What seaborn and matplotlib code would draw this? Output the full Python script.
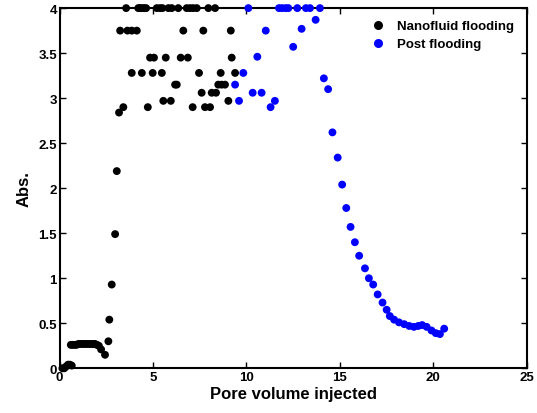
import numpy as np
import pandas as pd
import matplotlib
matplotlib.use("Agg")
import matplotlib.pyplot as plt
import seaborn as sns

# Nanofluid flooding (black)
nano_x = [0.15, 0.25, 0.35, 0.45, 0.55, 0.65,
          0.6, 0.7, 0.8, 0.9, 1.0, 1.1, 1.2, 1.3, 1.4, 1.5, 1.6, 1.7, 1.8, 1.9, 2.0, 2.1,
          2.22, 2.43, 2.61, 2.66, 2.79, 2.97, 3.06, 3.18, 3.41,
          3.24, 3.63, 3.86, 4.13, 6.62, 7.69, 9.16,
          3.56, 4.21, 4.30, 4.40, 4.52, 4.63, 5.20, 5.37, 5.50, 5.82, 6.0, 6.35, 6.80, 6.98, 7.15, 7.34, 7.96, 8.32,
          4.84, 5.05, 5.68, 6.48, 6.86, 9.21,
          3.86, 4.40, 4.98, 5.47, 7.46, 8.62, 9.39,
          6.18, 6.27, 8.49, 8.67, 8.85,
          7.60, 8.14, 8.37,
          5.55, 5.95, 9.03,
          4.72, 7.12, 7.78, 8.05]
nano_y = [0.0, 0.0, 0.02, 0.04, 0.04, 0.03,
          0.26, 0.26, 0.26, 0.26, 0.27, 0.27, 0.27, 0.27, 0.27, 0.27, 0.27, 0.27, 0.27, 0.27, 0.26, 0.25,
          0.21, 0.15, 0.30, 0.54, 0.93, 1.49, 2.19, 2.84, 2.90,
          3.75, 3.75, 3.75, 3.75, 3.75, 3.75, 3.75,
          4.0, 4.0, 4.0, 4.0, 4.0, 4.0, 4.0, 4.0, 4.0, 4.0, 4.0, 4.0, 4.0, 4.0, 4.0, 4.0, 4.0, 4.0,
          3.45, 3.45, 3.45, 3.45, 3.45, 3.45,
          3.28, 3.28, 3.28, 3.28, 3.28, 3.28, 3.28,
          3.15, 3.15, 3.15, 3.15, 3.15,
          3.06, 3.06, 3.06,
          2.97, 2.97, 2.97,
          2.90, 2.90, 2.90, 2.90]

# Post flooding (blue)
post_x = [9.39, 9.60, 9.83, 10.10, 10.33, 10.58, 10.81, 11.03, 11.29, 11.52,
          11.74, 11.91, 12.10, 12.24, 12.50, 12.72, 12.95, 13.18, 13.40, 13.70, 13.93,
          14.14, 14.37, 14.60, 14.88, 15.12, 15.34, 15.57, 15.80, 16.03, 16.34, 16.55,
          16.78, 17.02, 17.28, 17.50, 17.67, 17.90, 18.16, 18.44, 18.71, 18.96, 19.19,
          19.40, 19.64, 19.90, 20.13, 20.35, 20.58]
post_y = [3.15, 2.97, 3.28, 4.0, 3.06, 3.46, 3.06, 3.75, 2.90, 2.97,
          4.0, 4.0, 4.0, 4.0, 3.57, 4.0, 3.77, 4.0, 4.0, 3.87, 4.0,
          3.22, 3.10, 2.62, 2.34, 2.04, 1.78, 1.57, 1.40, 1.25, 1.11, 1.00,
          0.93, 0.82, 0.73, 0.65, 0.58, 0.54, 0.51, 0.49, 0.47, 0.46, 0.47,
          0.48, 0.46, 0.42, 0.39, 0.38, 0.44]

labels = ["Nanofluid flooding", "Post flooding"]

df = pd.DataFrame({
    "pv": nano_x + post_x,
    "abs": nano_y + post_y,
    "series": [labels[0]] * len(nano_x) + [labels[1]] * len(post_x),
})

sns.set_style("ticks")
plt.rcParams["font.family"] = ["Liberation Sans", "DejaVu Sans"]
plt.rcParams["font.weight"] = "bold"
for key in ["text.color", "axes.labelcolor", "xtick.color", "ytick.color", "axes.edgecolor"]:
    plt.rcParams[key] = "black"

fig = plt.figure(figsize=(5.37, 4.14), dpi=100)
ax = fig.add_axes([0.111, 0.108, 0.870, 0.870])

sns.scatterplot(data=df, x="pv", y="abs", hue="series",
                palette={labels[0]: "black", labels[1]: "blue"},
                s=32, linewidth=0, ax=ax, clip_on=False, zorder=3)

ax.set_xlim(0, 25)
ax.set_ylim(0, 4)
ax.set_xticks([0, 5, 10, 15, 20, 25])
ax.set_yticks([0, 0.5, 1, 1.5, 2, 2.5, 3, 3.5, 4])
ax.set_yticklabels(["0", "0.5", "1", "1.5", "2", "2.5", "3", "3.5", "4"])
ax.tick_params(direction="in", top=True, right=True, length=4, width=1,
               labelsize=9.5, pad=2)
for lab in ax.get_xticklabels() + ax.get_yticklabels():
    lab.set_fontweight("bold")
for sp in ax.spines.values():
    sp.set_visible(True)
    sp.set_linewidth(1.5)

ax.set_xlabel("Pore volume injected", fontsize=12, fontweight="bold", labelpad=2)
ax.set_ylabel("Abs.", fontsize=12, fontweight="bold", labelpad=5)

leg = ax.legend(loc="upper right", bbox_to_anchor=(0.999, 1.0), frameon=False,
                fontsize=9.5, handletextpad=0.5, labelspacing=0.45, markerscale=1.15)
for t in leg.get_texts():
    t.set_fontweight("bold")

fig.savefig("out.png", dpi=100)
